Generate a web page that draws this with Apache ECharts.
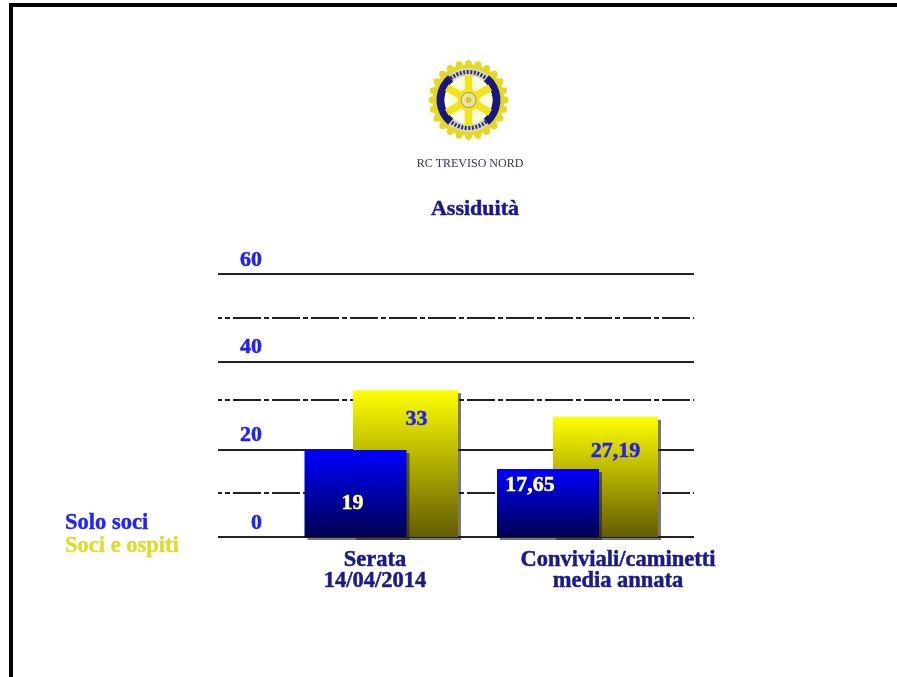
<!DOCTYPE html>
<html>
<head>
<meta charset="utf-8">
<title>Assiduità</title>
<script src="https://cdn.jsdelivr.net/npm/echarts@6/dist/echarts.min.js"></script>
<style>
  html, body { margin: 0; padding: 0; background: #fff; overflow: hidden; }
  #chart { width: 897px; height: 677px; filter: blur(0.6px); }
</style>
</head>
<body>
<div id="chart"></div>
<script>
  const chartTitle = 'Assiduità';
  const clubName = 'RC TREVISO NORD';
  const categories = ['Serata\n14/04/2014', 'Conviviali/caminetti\nmedia annata'];
  const seriesNames = ['Solo soci', 'Soci e ospiti'];
  const yTicks = [0, 20, 40, 60];

  // altezze lette dall'asse: nell'originale non coincidono con i numeri stampati
  const soloSoci = [19.85, 15.5];
  const sociOspiti = [33.5, 27.45];
  const soloSociLabels = ['19', '17,65'];
  const sociOspitiLabels = ['33', '27,19'];
  const midLines = [10, 31.2, 50];

  const FONT = '"Liberation Serif", serif';
  const BLUE_TEXT = '#2222ee';
  const NAVY = '#1a1a8c';

  // griglie: 0 righe e tick, 1 barre blu, 2 barre gialle, 3 etichette categorie
  const gridSpec = [
    { left: 218, width: 476 },
    { left: 259.25, width: 385 },
    { left: 305.5, width: 400 },
    { left: 253.5, width: 486 }
  ];

  function logo () {
    const cx = 468.5, cy = 100;
    const items = [];
    for (let i = 0; i < 24; i++) {
      const a = i * Math.PI / 12;
      items.push({
        type: 'circle',
        shape: { cx: cx + 36.5 * Math.cos(a), cy: cy + 36.5 * Math.sin(a), r: 3.4 },
        style: { fill: '#e6d820' }
      });
    }
    items.push({ type: 'circle', shape: { cx, cy, r: 36 }, style: { fill: '#e6d820' } });
    items.push({ type: 'circle', shape: { cx, cy, r: 32 }, style: { fill: '#d8d8c0' } });
    [[Math.PI * 0.72, Math.PI * 1.28], [-Math.PI * 0.28, Math.PI * 0.28]].forEach(([s, e]) => {
      items.push({
        type: 'sector',
        shape: { cx, cy, r: 32, r0: 24, startAngle: s, endAngle: e },
        style: { fill: '#18187a' }
      });
    });
    [[-Math.PI * 0.72, -Math.PI * 0.28], [Math.PI * 0.28, Math.PI * 0.72]].forEach(([s, e]) => {
      items.push({
        type: 'arc',
        shape: { cx, cy, r: 28, startAngle: s, endAngle: e },
        style: { stroke: '#30307a', lineWidth: 4, lineDash: [2, 1.5], fill: null }
      });
    });
    items.push({ type: 'circle', shape: { cx, cy, r: 24 }, style: { fill: '#fdfbe0' } });
    for (let i = 0; i < 6; i++) {
      const a = Math.PI / 2 + i * Math.PI / 3;
      items.push({
        type: 'line',
        shape: { x1: cx, y1: cy, x2: cx + 25 * Math.cos(a), y2: cy + 25 * Math.sin(a) },
        style: { stroke: '#f2e41a', lineWidth: 7.5 }
      });
    }
    items.push({ type: 'circle', shape: { cx, cy, r: 11 }, style: { fill: '#f2e41a' } });
    items.push({ type: 'circle', shape: { cx, cy, r: 7.5 }, style: { fill: '#e8e4b0', stroke: '#a09850', lineWidth: 1 } });
    items.push({ type: 'circle', shape: { cx, cy, r: 3 }, style: { fill: '#d8c820' } });
    return items;
  }

  function barGradient (top, bottom) {
    return new echarts.graphic.LinearGradient(0, 0, 0, 1, [
      { offset: 0, color: top },
      { offset: 1, color: bottom }
    ]);
  }

  function barLabel (texts, color, offsets) {
    return values => values.map((v, i) => ({
      value: v,
      label: {
        show: true,
        position: 'inside',
        offset: offsets[i],
        formatter: texts[i],
        color: color,
        fontFamily: FONT,
        fontWeight: 'bold',
        fontSize: 22,
        textBorderColor: color === BLUE_TEXT ? '#2222ee' : '#ffffa8',
        textBorderWidth: 0.5
      }
    }));
  }

  const option = {
    animation: false,
    backgroundColor: '#fff',
    title: {
      text: chartTitle,
      left: 470,
      top: 193,
      textAlign: 'center',
      textStyle: {
        color: NAVY, fontFamily: FONT, fontWeight: 'bold', fontSize: 22,
        textBorderColor: NAVY, textBorderWidth: 0.5
      }
    },
    legend: {
      orient: 'vertical',
      left: 55,
      top: 506,
      itemWidth: 0,
      itemHeight: 0,
      itemGap: 0,
      selectedMode: false,
      data: [
        { name: seriesNames[0], icon: 'none', textStyle: { color: '#2222ff', fontFamily: FONT, fontWeight: 'bold', fontSize: 22.5, textBorderColor: '#2222ff', textBorderWidth: 0.4 } },
        { name: seriesNames[1], icon: 'none', textStyle: { color: '#dcdc30', fontFamily: FONT, fontWeight: 'bold', fontSize: 22.5, textBorderColor: '#dcdc30', textBorderWidth: 0.4 } }
      ]
    },
    grid: gridSpec.map(g => ({ left: g.left, width: g.width, top: 274, height: 263 })),
    xAxis: gridSpec.map((g, i) => ({
      type: 'category',
      gridIndex: i,
      data: categories,
      axisLine: { show: false },
      axisTick: { show: false },
      axisLabel: {
        show: i === 3,
        margin: 13,
        color: NAVY,
        fontFamily: FONT,
        fontWeight: 'bold',
        fontSize: 22.5,
        lineHeight: 21,
        textBorderColor: NAVY,
        textBorderWidth: 0.5,
        interval: 0
      }
    })),
    yAxis: gridSpec.map((g, i) => ({
      type: 'value',
      gridIndex: i,
      min: yTicks[0],
      max: yTicks[yTicks.length - 1],
      interval: yTicks[1] - yTicks[0],
      axisLine: { show: false },
      axisTick: { show: false },
      splitLine: {
        show: i === 0,
        lineStyle: { color: '#222', width: 2 }
      },
      axisLabel: {
        show: i === 0,
        inside: true,
        margin: 44,
        align: 'right',
        verticalAlign: 'bottom',
        padding: [0, 0, 3, 0],
        color: BLUE_TEXT,
        fontFamily: FONT,
        fontWeight: 'bold',
        fontSize: 22,
        textBorderColor: BLUE_TEXT,
        textBorderWidth: 0.5
      }
    })),
    series: [
      {
        type: 'line',
        name: 'righe',
        xAxisIndex: 0,
        yAxisIndex: 0,
        data: [],
        z: 1,
        markLine: {
          silent: true,
          z: 1,
          symbol: 'none',
          label: { show: false },
          lineStyle: { color: '#222', width: 2, type: [28, 3, 5, 3], dashOffset: 24 },
          data: midLines.map(v => ({ yAxis: v }))
        }
      },
      {
        type: 'bar',
        name: seriesNames[1],
        xAxisIndex: 2,
        yAxisIndex: 2,
        z: 3,
        barWidth: 105,
        data: barLabel(sociOspitiLabels, BLUE_TEXT, [[11, -44], [10, -26]])(sociOspiti),
        itemStyle: {
          color: barGradient('#ffff00', '#625c00'),
          shadowColor: 'rgba(30,30,30,0.6)',
          shadowOffsetX: 3,
          shadowOffsetY: 3
        }
      },
      {
        type: 'bar',
        name: seriesNames[0],
        xAxisIndex: 1,
        yAxisIndex: 1,
        z: 4,
        barWidth: 102,
        data: barLabel(soloSociLabels, '#ffffa8', [[-3, 10], [-18, -18]])(soloSoci),
        itemStyle: {
          color: barGradient('#0000ff', '#000050'),
          shadowColor: 'rgba(30,30,30,0.6)',
          shadowOffsetX: 3,
          shadowOffsetY: 3
        }
      },
      // serve solo a far disegnare le etichette delle categorie
      { type: 'bar', name: 'assi', xAxisIndex: 3, yAxisIndex: 3, data: [] }
    ],
    graphic: [
      { type: 'rect', silent: true, shape: { x: 9, y: 3, width: 888, height: 4 }, style: { fill: '#000' } },
      { type: 'rect', silent: true, shape: { x: 9, y: 3, width: 4, height: 674 }, style: { fill: '#000' } },
      { type: 'group', silent: true, children: logo() },
      {
        type: 'text',
        silent: true,
        x: 470,
        y: 164,
        style: {
          text: clubName,
          fill: '#33335a',
          font: '12px ' + FONT,
          align: 'center',
          verticalAlign: 'middle'
        }
      }
    ]
  };

  const chart = echarts.init(document.getElementById('chart'), null, { renderer: 'canvas' });
  chart.setOption(option);
</script>
</body>
</html>
